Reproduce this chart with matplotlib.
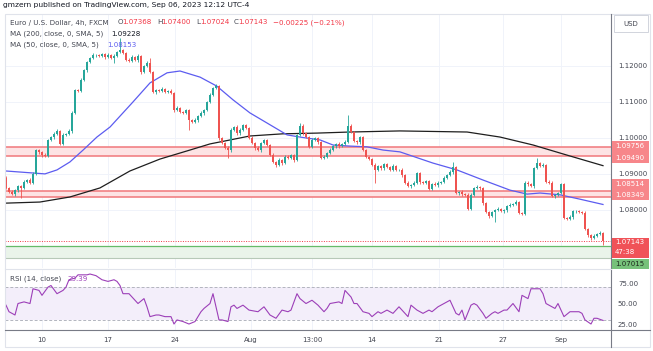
import matplotlib
matplotlib.use("Agg")
import matplotlib.pyplot as plt
from matplotlib.patches import Rectangle
from matplotlib.lines import Line2D

W, H = 653, 351

# EURUSD 4h closes (one candle every ~3 px)
first_open = 1.0889
closes = [
    1.0861, 1.0850, 1.0844, 1.0855, 1.0866, 1.0861, 1.0878, 1.0883, 1.0875, 1.0900,
    1.0966, 1.0961, 1.0952, 1.0950, 1.0994, 1.1002, 1.1011, 1.1019, 1.0983, 1.1008,
    1.1011, 1.1019, 1.1069, 1.1132, 1.1130, 1.1160, 1.1188, 1.1210, 1.1221, 1.1229,
    1.1229, 1.1227, 1.1232, 1.1224, 1.1229, 1.1221, 1.1227, 1.1238, 1.1243, 1.1235,
    1.1216, 1.1213, 1.1224, 1.1216, 1.1227, 1.1182, 1.1199, 1.1207, 1.1182, 1.1127,
    1.1132, 1.1130, 1.1135, 1.1127, 1.1130, 1.1124, 1.1077, 1.1083, 1.1071, 1.1069,
    1.1077, 1.1049, 1.1044, 1.1049, 1.1060, 1.1069, 1.1077, 1.1099, 1.1119, 1.1138,
    1.1143, 1.0999, 1.0986, 1.0972, 1.0966, 1.1022, 1.1030, 1.1013, 1.1022, 1.1035,
    1.1027, 1.0999, 1.0986, 1.0972, 1.0966, 1.0986, 1.0994, 1.0980, 1.0952, 1.0933,
    1.0925, 1.0939, 1.0930, 1.0947, 1.0944, 1.0952, 1.0939, 1.1008, 1.1033, 1.1013,
    1.1002, 1.0975, 1.0994, 1.0999, 1.0988, 1.0944, 1.0947, 1.0958, 1.0966, 1.0977,
    1.0983, 1.0977, 1.0983, 1.0988, 1.1033, 1.1016, 1.0991, 1.0988, 1.1002, 1.0966,
    1.0947, 1.0941, 1.0925, 1.0911, 1.0922, 1.0916, 1.0927, 1.0919, 1.0911, 1.0922,
    1.0911, 1.0911, 1.0897, 1.0875, 1.0866, 1.0869, 1.0875, 1.0902, 1.0878, 1.0875,
    1.0880, 1.0858, 1.0872, 1.0869, 1.0875, 1.0878, 1.0889, 1.0897, 1.0905, 1.0919,
    1.0847, 1.0850, 1.0844, 1.0842, 1.0803, 1.0842, 1.0861, 1.0864, 1.0861, 1.0819,
    1.0794, 1.0783, 1.0794, 1.0800, 1.0803, 1.0797, 1.0800, 1.0811, 1.0814, 1.0817,
    1.0822, 1.0792, 1.0789, 1.0875, 1.0872, 1.0866, 1.0916, 1.0930, 1.0922, 1.0925,
    1.0878, 1.0875, 1.0839, 1.0842, 1.0847, 1.0872, 1.0778, 1.0775, 1.0781, 1.0797,
    1.0797, 1.0794, 1.0792, 1.0747, 1.0731, 1.0722, 1.0728, 1.0734, 1.0737, 1.07143,
]
# wick lengths above / below the body, in pips
up_pips = [
    4, 3, 5, 3, 4, 3, 4, 3, 5, 6, 3, 4, 3, 5, 4, 3, 5, 4, 3, 4,
    3, 5, 4, 3, 4, 5, 3, 4, 3, 5, 4, 3, 4, 3, 5, 3, 4, 3, 33, 4,
    3, 4, 5, 3, 4, 3, 4, 5, 14, 3, 4, 3, 5, 4, 3, 4, 3, 5, 3, 4,
    4, 3, 4, 5, 3, 4, 3, 4, 5, 4, 6, 3, 4, 3, 5, 4, 3, 5, 4, 3,
    4, 3, 5, 3, 4, 3, 4, 3, 4, 5, 3, 4, 3, 5, 4, 3, 4, 3, 8, 4,
    3, 4, 5, 3, 4, 3, 4, 3, 5, 4, 3, 4, 3, 5, 30, 4, 3, 4, 3, 4,
    4, 3, 4, 5, 3, 4, 3, 4, 3, 5, 4, 3, 4, 3, 5, 3, 4, 3, 4, 3,
    3, 4, 3, 5, 4, 3, 4, 3, 5, 14, 4, 3, 4, 3, 5, 4, 3, 4, 3, 4,
    4, 3, 4, 3, 5, 3, 4, 3, 4, 3, 5, 4, 3, 5, 4, 3, 4, 14, 3, 4,
    3, 4, 5, 3, 4, 3, 4, 3, 5, 4, 3, 4, 3, 5, 4, 3, 6, 3, 4, 3,
]
dn_pips = [
    3, 4, 3, 5, 4, 28, 3, 4, 3, 4, 3, 5, 4, 3, 4, 3, 5, 4, 3, 4,
    4, 3, 5, 4, 3, 4, 3, 5, 4, 3, 4, 3, 4, 5, 3, 4, 14, 3, 4, 3,
    4, 3, 4, 3, 5, 4, 3, 4, 3, 4, 5, 3, 4, 3, 4, 3, 5, 4, 3, 4,
    3, 27, 4, 3, 4, 3, 5, 4, 3, 4, 3, 5, 4, 3, 22, 4, 3, 4, 5, 3,
    4, 3, 4, 5, 3, 4, 3, 4, 3, 4, 5, 3, 4, 3, 4, 3, 5, 4, 3, 4,
    3, 4, 3, 4, 5, 3, 4, 3, 4, 3, 4, 5, 3, 4, 3, 4, 3, 5, 4, 3,
    4, 3, 4, 36, 3, 4, 5, 3, 4, 3, 4, 3, 5, 4, 3, 4, 3, 4, 5, 3,
    4, 3, 4, 3, 5, 4, 3, 4, 3, 4, 3, 5, 4, 3, 4, 3, 4, 3, 5, 4,
    3, 4, 3, 27, 4, 3, 4, 5, 3, 4, 3, 4, 3, 4, 5, 3, 4, 3, 4, 3,
    4, 3, 4, 5, 3, 4, 3, 4, 3, 5, 4, 3, 4, 3, 5, 4, 3, 4, 3, 12,
]

# moving averages, sampled along the curves (candle index, price)
ma200_idx = [0, 11.3, 21.3, 31.3, 41.3, 51.3, 61.3, 68, 74.7, 81.3, 92.3,
             103.7, 114.7, 131.3, 153.7, 164.7, 175.7, 187, 199]
ma200_val = [1.0819, 1.0822, 1.0836, 1.0861, 1.0908, 1.0941, 1.0966, 1.0983,
             1.0994, 1.1005, 1.1011, 1.1013, 1.1016, 1.1019, 1.1016, 1.1002,
             1.0980, 1.0952, 1.09228]
ma50_idx = [0, 13, 17, 21.3, 25.7, 30.3, 34.7, 42.3, 48, 53.7, 58, 64.7, 70.3,
            75.7, 81.3, 87, 93.7, 98, 104.7, 109, 114.7, 120.3, 125.7, 131.3,
            142.3, 150.3, 159, 168, 173.7, 178, 184.7, 191.3, 199]
ma50_val = [1.0908, 1.0900, 1.0911, 1.0933, 1.0966, 1.1002, 1.1030, 1.1099,
            1.1152, 1.1180, 1.1185, 1.1168, 1.1143, 1.1105, 1.1069, 1.1041,
            1.1008, 1.1002, 1.0994, 1.0980, 1.0977, 1.0975, 1.0966, 1.0961,
            1.0930, 1.0911, 1.0883, 1.0855, 1.0844, 1.0847, 1.0842, 1.0830,
            1.08153]

# RSI(14)
rsi_idx = [0, 1, 3, 4, 6, 8, 9, 11, 12, 14, 15, 17, 19, 20, 21, 23, 24, 27, 28, 30,
           32, 34, 36, 37, 38, 39, 41, 43, 44, 46, 47, 48, 50, 51, 53, 55, 56, 57, 59, 61,
           63, 65, 66, 68, 69, 70, 71, 72, 74, 75, 76, 77, 79, 81, 84, 86, 88, 90, 92, 94,
           95, 97, 98, 100, 102, 104, 106, 107, 108, 111, 112, 113, 115, 116, 117, 119, 121, 122, 124, 125,
           127, 129, 131, 133, 134, 135, 137, 139, 141, 142, 144, 146, 147, 148, 150, 151, 152, 153, 155, 156,
           157, 159, 160, 162, 163, 164, 166, 167, 169, 171, 172, 174, 175, 178, 179, 180, 182, 183, 184, 186,
           188, 191, 192, 193, 195, 196, 197, 199]
rsi_val = [48, 40, 36, 50, 52, 50, 68, 66, 60, 70, 72, 62, 66, 70, 79, 81, 85, 85, 86, 84,
           79, 77, 79, 77, 72, 62, 62, 54, 50, 56, 46, 34, 36, 36, 34, 34, 25, 30, 28, 25,
           28, 40, 44, 50, 62, 46, 30, 30, 28, 46, 48, 44, 48, 42, 40, 46, 36, 32, 42, 40,
           42, 62, 56, 50, 54, 48, 40, 44, 50, 52, 50, 66, 58, 50, 50, 40, 38, 34, 40, 38,
           42, 38, 46, 38, 34, 48, 42, 38, 42, 40, 46, 50, 52, 54, 38, 36, 42, 30, 48, 50,
           48, 38, 32, 38, 40, 38, 42, 42, 50, 40, 60, 56, 68, 68, 62, 50, 46, 44, 50, 34,
           40, 40, 38, 30, 25, 32, 32, 29.39]

red_zones = [(1.09490, 1.09756), (1.08349, 1.08514)]
green_zone = (1.0667, 1.07015)
last_price = 1.07143

price_ticks = [1.08, 1.09, 1.10, 1.11, 1.12]
rsi_ticks = [25, 50, 75]
date_pos = [12, 34, 56.3, 81.7, 102, 122, 144.3, 165.7, 185]
date_labels = ["10", "17", "24", "Aug", "13:00", "14", "21", "27", "Sep"]

UP, DOWN = "#26a69a", "#ef5350"
GRID = "#f0f3fa"
TXT = "#434651"
RSI_C = "#9c3fb8"


def box(x0, y0, x1, y1):
    return [x0 / W, 1 - y1 / H, (x1 - x0) / W, (y1 - y0) / H]


def fx(x):
    return x / W


def fy(y):
    return 1 - y / H


fig = plt.figure(figsize=(W / 100, H / 100), dpi=100)
fig.patch.set_facecolor("white")

ax = fig.add_axes(box(5, 14, 611, 268))
ax.set_xlim(-0.33, 201.67)
ax.set_ylim(1.06393, 1.13429)

# grid
for p in price_ticks:
    ax.axhline(p, color=GRID, lw=0.7, zorder=0)
for d in date_pos:
    ax.axvline(d, color=GRID, lw=0.7, zorder=0)

# zones
for lo, hi in red_zones:
    ax.axhspan(lo, hi, color="#fde3e4", lw=0, zorder=1)
    ax.axhline(lo, color="#f0777b", lw=1.1, zorder=1.5)
    ax.axhline(hi, color="#f0777b", lw=1.1, zorder=1.5)
ax.axhspan(green_zone[0], green_zone[1], color="#eaf4ea", lw=0, zorder=1)
ax.axhline(green_zone[1], color="#66bb6a", lw=0.9, zorder=1.5)
ax.axhline(green_zone[0], color="#b7c9b8", lw=0.8, zorder=1.5)
ax.axhline(last_price, color="#f23645", lw=0.7, ls=(0, (1, 1.5)), zorder=1.5)

# candles
opens = [first_open] + closes[:-1]
for i, (o, c) in enumerate(zip(opens, closes)):
    col = UP if c >= o else DOWN
    hi = max(o, c) + up_pips[i] * 1e-4
    lo = min(o, c) - dn_pips[i] * 1e-4
    ax.vlines(i, lo, hi, color=col, lw=0.6, zorder=3)
    ax.bar(i, max(abs(c - o), 0.00006), bottom=min(o, c), width=0.62,
           color=col, lw=0, zorder=3)

ax.plot(ma200_idx, ma200_val, color="#1e1e1e", lw=0.9, zorder=2)
ax.plot(ma50_idx, ma50_val, color="#5c5cf0", lw=0.9, zorder=2)

ax.yaxis.tick_right()
ax.set_yticks(price_ticks, [f"{p:.5f}" for p in price_ticks])
ax.tick_params(axis="y", length=0, pad=5, labelsize=5, labelcolor=TXT)
ax.set_xticks([])
for s in ax.spines.values():
    s.set_visible(False)

# RSI panel
ar = fig.add_axes(box(5, 270, 611, 330))
ar.set_xlim(-0.33, 201.67)
ar.set_ylim(17.7, 90.9)
for d in date_pos:
    ar.axvline(d, color=GRID, lw=0.7, zorder=0)
ar.axhspan(30, 70, color="#f3eefa", lw=0, zorder=0.5)
ar.axhline(70, color="#b2b5be", lw=0.7, ls=(0, (3, 2)), zorder=1)
ar.axhline(30, color="#b2b5be", lw=0.7, ls=(0, (3, 2)), zorder=1)
ar.plot(rsi_idx, rsi_val, color=RSI_C, lw=0.8, zorder=2)
ar.yaxis.tick_right()
ar.set_yticks(rsi_ticks, [f"{v:.2f}" for v in rsi_ticks])
ar.tick_params(axis="y", length=0, pad=5, labelsize=5, labelcolor=TXT)
ar.set_xticks(date_pos, date_labels)
ar.tick_params(axis="x", length=0, pad=5, labelsize=5, labelcolor=TXT)
for s in ar.spines.values():
    s.set_visible(False)

# frame and axis lines
fig.add_artist(Rectangle((fx(4.5), fy(347)), (650 - 4.5) / W, (347 - 13.5) / H,
                         transform=fig.transFigure, fill=False, ec="#e0e3eb", lw=0.8))
fig.add_artist(Line2D([fx(611), fx(611)], [fy(14), fy(347)], color="#787b86", lw=0.8))
fig.add_artist(Line2D([fx(5), fx(650)], [fy(330), fy(330)], color="#787b86", lw=0.8))
fig.add_artist(Line2D([fx(5), fx(611)], [fy(269), fy(269)], color="#e0e3eb", lw=0.8))


def axis_tag(yc, text, bg, fg, h=10.5, text2=None):
    fig.add_artist(Rectangle((fx(611.5), fy(yc + h / 2)), (649 - 611.5) / W, h / H,
                             transform=fig.transFigure, fc=bg, ec="none", zorder=5))
    if text2 is None:
        fig.text(fx(615), fy(yc), text, color=fg, fontsize=5, va="center", zorder=6)
    else:
        fig.text(fx(615), fy(yc - h / 4), text, color=fg, fontsize=5, va="center", zorder=6)
        fig.text(fx(615), fy(yc + h / 4), text2, color=fg, fontsize=5, va="center", zorder=6)


axis_tag(146.5, "1.09756", "#f7868a", "white")
axis_tag(157.5, "1.09490", "#f7868a", "white")
axis_tag(184.5, "1.08514", "#f7868a", "white")
axis_tag(195, "1.08349", "#f7868a", "white")
axis_tag(247.5, "1.07143", "#f05258", "white", h=20, text2="47:38")
axis_tag(263.5, "1.07015", "#76c17a", "#1e2a1e", h=10)

# USD box
fig.add_artist(Rectangle((fx(614), fy(32)), 34 / W, 17 / H, transform=fig.transFigure,
                         fc="white", ec="#d1d4dc", lw=0.7))
fig.text(fx(631), fy(24), "USD", fontsize=5, color=TXT, ha="center", va="center")

# header / legend texts
fig.text(fx(3), fy(5.5), "gmzern published on TradingView.com, Sep 06, 2023 12:12 UTC-4",
         fontsize=5.4, color="#131722", va="center")
fig.text(fx(10), fy(22.5), "Euro / U.S. Dollar, 4h, FXCM", fontsize=5.1, color=TXT, va="center")
RED = "#f23645"
for x, lab, val in [(118, "O", "1.07368"), (157, "H", "1.07400"),
                    (196, "L", "1.07024"), (234, "C", "1.07143")]:
    fig.text(fx(x), fy(22.5), lab, fontsize=5.1, color=TXT, va="center")
    fig.text(fx(x + 4), fy(22.5), val, fontsize=5.1, color=RED, va="center")
fig.text(fx(273), fy(22.5), "\u22120.00225 (\u22120.21%)", fontsize=5.1, color=RED, va="center")
fig.text(fx(10), fy(34), "MA (200, close, 0, SMA, 5)", fontsize=5.1, color=TXT, va="center")
fig.text(fx(111), fy(34), "1.09228", fontsize=5.1, color="#131722", va="center")
fig.text(fx(10), fy(45), "MA (50, close, 0, SMA, 5)", fontsize=5.1, color=TXT, va="center")
fig.text(fx(107), fy(45), "1.08153", fontsize=5.1, color="#5c5cf0", va="center")
fig.text(fx(10), fy(279), "RSI (14, close)", fontsize=5.1, color=TXT, va="center")
fig.text(fx(67), fy(279), "29.39", fontsize=5.1, color=RSI_C, va="center")

fig.savefig("out.png", dpi=100)
